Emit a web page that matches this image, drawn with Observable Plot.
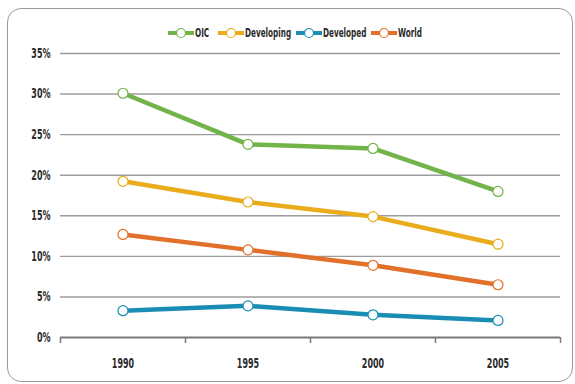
<!DOCTYPE html>
<html>
<head>
<meta charset="utf-8">
<script src="https://cdn.jsdelivr.net/npm/d3@7"></script>
<script src="https://cdn.jsdelivr.net/npm/@observablehq/plot@0.6"></script>
<style>
  html, body { margin: 0; padding: 0; background: #fff; }
  #wrap { position: relative; width: 575px; height: 384px; overflow: hidden;
          font-family: "DejaVu Sans Condensed", "DejaVu Sans", sans-serif; }
  #frame { position: absolute; left: 7px; top: 8px; width: 566px; height: 374px;
           border: 1.3px solid #9a9a9a; border-radius: 14px; box-sizing: border-box; }
  #legend { position: absolute; top: 0; left: 0; width: 575px; height: 50px;
            font-size: 13px; font-weight: bold; color: #2a2a2a; white-space: nowrap; }
  #legend svg { position: absolute; top: 27px; }
  #legend span { position: absolute; top: 25px; display: inline-block; transform: scaleX(0.62); transform-origin: left center; }
  #chart { position: absolute; left: 0; top: 0; }
</style>
</head>
<body>
<div id="wrap">
  <div id="frame"></div>
  <div id="chart"></div>
  <div id="legend"></div>
</div>
<script>
const years = [1990, 1995, 2000, 2005];
const seriesNames = ["OIC", "Developing", "Developed", "World"];
const colors = ["#72b34a", "#e8ac1c", "#1a8db4", "#e0702a"];
const oic = [30.1, 23.8, 23.3, 18.0];
const developing = [19.25, 16.7, 14.9, 11.5];
const developed = [3.3, 3.9, 2.8, 2.1];
const world = [12.7, 10.8, 8.9, 6.5];
const yTicks = [0, 5, 10, 15, 20, 25, 30, 35];
const bandEdges = [1987.5, 1992.5, 1997.5, 2002.5, 2007.5];

const valuesBySeries = [oic, developing, developed, world];
const data = [];
seriesNames.forEach((s, i) => years.forEach((yr, j) => data.push({series: s, year: yr, value: valuesBySeries[i][j]})));

const font = `"DejaVu Sans Condensed", "DejaVu Sans", sans-serif`;

const chart = Plot.plot({
  width: 575,
  height: 384,
  marginTop: 53,
  marginBottom: 47,
  marginLeft: 60,
  marginRight: 15,
  style: { fontFamily: font, fontSize: "13.5px", fontWeight: "bold", color: "#2a2a2a", background: "transparent" },
  x: { type: "linear", domain: [1987.5, 2007.5] },
  y: { domain: [0, 35] },
  color: { domain: seriesNames, range: colors },
  marks: [
    Plot.ruleY(yTicks.filter(d => d > 0), { stroke: "#9c9c9c", strokeWidth: 1.4 }),
    Plot.ruleY([0], { stroke: "#7a7a7a", strokeWidth: 2.2 }),
    Plot.axisY(yTicks, { tickSize: 0, tickPadding: 10, tickFormat: d => d + "%", label: null, fill: "#2a2a2a", className: "ylab" }),
    Plot.axisX(bandEdges, { tickSize: 6, text: null, label: null, stroke: "#7a7a7a", strokeWidth: 1.5 }),
    Plot.axisX(years, { tickSize: 0, tickPadding: 21, tickFormat: d => String(d), label: null, fill: "#2a2a2a", className: "xlab" }),
    Plot.line(data, { x: "year", y: "value", z: "series", stroke: "series", strokeWidth: 4.5 }),
    Plot.dot(data, { x: "year", y: "value", stroke: "series", fill: "white", r: 5, strokeWidth: 1.2 })
  ]
});
// condense axis labels horizontally (font is wider than the reference's narrow face)
chart.querySelectorAll(".ylab text, .xlab text").forEach(t => {
  const tr = t.getAttribute("transform") || "";
  t.setAttribute("transform", tr + " scale(0.66 1)");
});
document.getElementById("chart").appendChild(chart);

const legend = document.getElementById("legend");
const symX = [168, 218, 296, 371];
seriesNames.forEach((s, i) => {
  legend.insertAdjacentHTML("beforeend",
    `<svg style="left:${symX[i]}px" width="26" height="12"><line x1="0" y1="6" x2="26" y2="6" stroke="${colors[i]}" stroke-width="4"/><circle cx="13" cy="6" r="4.5" fill="white" stroke="${colors[i]}" stroke-width="1.2"/></svg><span style="left:${symX[i] + 27}px">${s}</span>`);
});
</script>
</body>
</html>
